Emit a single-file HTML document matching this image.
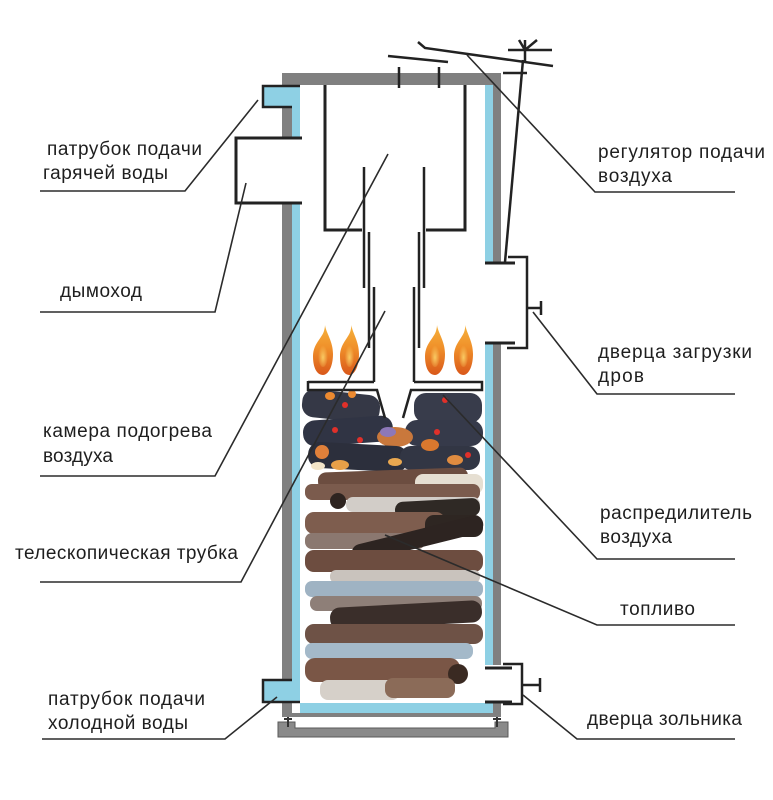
<!DOCTYPE html>
<html><head><meta charset="utf-8">
<style>
html,body{margin:0;padding:0;background:#fff;}
svg{display:block;}
text{font-family:"Liberation Sans","DejaVu Sans",sans-serif;font-size:19px;fill:#1e1e1e;}
</style></head><body>
<svg width="773" height="800" viewBox="0 0 773 800" xmlns="http://www.w3.org/2000/svg">
<defs>
<linearGradient id="fl" x1="0" y1="0" x2="0" y2="1">
<stop offset="0" stop-color="#f5b23c"/>
<stop offset="0.45" stop-color="#f0902a"/>
<stop offset="1" stop-color="#d9581a"/>
</linearGradient>
<radialGradient id="flc" cx="0.5" cy="0.6" r="0.5">
<stop offset="0" stop-color="#fbd36a" stop-opacity="0.9"/>
<stop offset="1" stop-color="#fbd36a" stop-opacity="0"/>
</radialGradient>
<g id="flame">
<path d="M12,0 C13,8 20,16 20,29 C20,42 15,50 10,50 C4,50 0,43 0,31 C0,19 9,13 11,6 C11.5,4 12,2 12,0 Z" fill="url(#fl)"/>
<ellipse cx="10" cy="30" rx="5" ry="12" fill="url(#flc)"/>
</g>
<clipPath id="inner"><rect x="300" y="390" width="185" height="313"/></clipPath>
</defs>

<!-- ===== fuel / fire ===== -->
<g clip-path="url(#inner)">
<rect x="302" y="392" width="78" height="28" rx="12" fill="#353846" transform="rotate(6 340 406)"/>
<rect x="414" y="393" width="68" height="30" rx="12" fill="#383c4b"/>
<ellipse cx="330" cy="396" rx="5" ry="4" fill="#ec8a30"/>
<ellipse cx="352" cy="394" rx="4" ry="4" fill="#ec8a30"/>
<rect x="303" y="418" width="90" height="26" rx="12" fill="#303444" transform="rotate(-4 348 431)"/>
<rect x="405" y="420" width="78" height="26" rx="12" fill="#363a4a"/>
<ellipse cx="395" cy="437" rx="18" ry="10" fill="#c9783c"/>
<ellipse cx="388" cy="432" rx="8" ry="5" fill="#8d78b8"/>
<rect x="308" y="444" width="100" height="26" rx="12" fill="#2c2f3c" transform="rotate(3 358 457)"/>
<rect x="400" y="446" width="80" height="24" rx="11" fill="#323644"/>
<ellipse cx="322" cy="452" rx="7" ry="7" fill="#e0803a"/>
<ellipse cx="340" cy="465" rx="9" ry="5" fill="#e8a048"/>
<ellipse cx="430" cy="445" rx="9" ry="6" fill="#d9782e"/>
<ellipse cx="455" cy="460" rx="8" ry="5" fill="#e08c40"/>
<ellipse cx="395" cy="462" rx="7" ry="4" fill="#eaa850"/>
<ellipse cx="318" cy="466" rx="7" ry="4" fill="#f2e4c8"/>
<circle cx="345" cy="405" r="3" fill="#e0302a"/>
<circle cx="360" cy="440" r="3" fill="#e0302a"/>
<circle cx="445" cy="400" r="3" fill="#e0302a"/>
<circle cx="437" cy="432" r="3" fill="#e0302a"/>
<circle cx="335" cy="430" r="3" fill="#e0302a"/>
<circle cx="468" cy="455" r="3" fill="#e0302a"/>

<rect x="318" y="470" width="150" height="18" rx="8" fill="#6c4d40" transform="rotate(-2 393 479)"/>
<rect x="415" y="474" width="68" height="20" rx="8" fill="#e6dfd2"/>
<rect x="305" y="484" width="175" height="16" rx="7" fill="#7b5b4d"/>
<circle cx="338" cy="501" r="8" fill="#2e2420"/>
<rect x="346" y="497" width="134" height="15" rx="7" fill="#d2cdc8"/>
<rect x="395" y="500" width="85" height="18" rx="8" fill="#2f2925" transform="rotate(-3 437 509)"/>
<rect x="305" y="512" width="140" height="22" rx="9" fill="#7e5d4e"/>
<rect x="425" y="515" width="58" height="22" rx="9" fill="#2e2622"/>
<rect x="305" y="533" width="120" height="16" rx="7" fill="#8b7870"/>
<rect x="350" y="530" width="135" height="18" rx="9" fill="#2d2421" transform="rotate(-14 417 539)"/>
<rect x="305" y="550" width="178" height="22" rx="9" fill="#6d4d40"/>
<rect x="330" y="570" width="150" height="13" rx="6" fill="#c9c3bd"/>
<rect x="305" y="581" width="178" height="16" rx="7" fill="#9fb3c3"/>
<rect x="310" y="596" width="172" height="15" rx="7" fill="#8e7f78"/>
<rect x="330" y="604" width="152" height="22" rx="10" fill="#3a2e2a" transform="rotate(-3 406 615)"/>
<rect x="305" y="624" width="178" height="20" rx="9" fill="#6e5246"/>
<rect x="305" y="643" width="168" height="16" rx="7" fill="#a4b9c9"/>
<rect x="305" y="658" width="155" height="24" rx="10" fill="#7a5646"/>
<circle cx="458" cy="674" r="10" fill="#3a2a22"/>
<rect x="320" y="680" width="80" height="20" rx="8" fill="#d6d0c9"/>
<rect x="385" y="678" width="70" height="20" rx="8" fill="#8b6b58"/>
</g>

<!-- flames -->
<use href="#flame" transform="translate(313,325)"/>
<use href="#flame" transform="translate(340,325) scale(0.95,1)"/>
<use href="#flame" transform="translate(425,325)"/>
<use href="#flame" transform="translate(454,325) scale(0.95,1)"/>

<!-- ===== boiler shell ===== -->
<g fill="#808080">
<rect x="282" y="73" width="219" height="12"/>
<rect x="282" y="107" width="10" height="31"/>
<rect x="282" y="203" width="10" height="477"/>
<rect x="282" y="702" width="10" height="15"/>
<rect x="493" y="85" width="8" height="178"/>
<rect x="493" y="343" width="8" height="322"/>
<rect x="493" y="703" width="8" height="14"/>
<rect x="282" y="713" width="219" height="4"/>
</g>
<g fill="#8ed0e4">
<rect x="263" y="87" width="37" height="20"/>
<rect x="292" y="85" width="8" height="53"/>
<rect x="292" y="203" width="8" height="500"/>
<rect x="263" y="680" width="37" height="22"/>
<rect x="300" y="703" width="193" height="10"/>
<rect x="485" y="85" width="8" height="178"/>
<rect x="485" y="343" width="8" height="322"/>
<rect x="485" y="704" width="8" height="9"/>
</g>

<!-- base tray & legs -->
<path d="M278,722 H295 V728 H495 V722 H508 V737 H278 Z" fill="#8a8a8a" stroke="#5a5a5a" stroke-width="1"/>
<g stroke="#333" stroke-width="2" fill="none">
<path d="M288,717 V727 M284,719 H292"/>
<path d="M497,717 V727 M493,719 H501"/>
</g>

<g fill="none" stroke="#222" stroke-width="3" stroke-linecap="butt">
<path d="M300,86 H263 V107 H292" stroke-width="2.5"/>
<path d="M302,138 H236 V203 H302"/>
<path d="M292,680 H263 V702 H300" stroke-width="2.5"/>
<path d="M399,67 V88 M439,67 V88" stroke-width="2.5"/>
<path d="M325,85 V230 H362"/>
<path d="M465,85 V230 H426"/>
<path d="M364,167 V288 M369,232 V348 M374,287 V382" stroke-width="2.5"/>
<path d="M424,167 V288 M419,232 V348 M414,287 V382" stroke-width="2.5"/>
<path d="M308,382 H374 M308,381 V390 H377 L385,418" stroke-width="2.5"/>
<path d="M414,382 H482 V390 H411 L403,418" stroke-width="2.5"/>
<path d="M485,263 H515"/>
<path d="M508,257 H527 V348 H507" stroke-width="2.5"/>
<path d="M485,343 H515"/>
<path d="M527,308 H541 M541,301 V315" stroke-width="2.5"/>
<path d="M485,668 H512"/>
<path d="M503,664 H522 V704 H503" stroke-width="2.5"/>
<path d="M485,702 H512"/>
<path d="M522,685 H540 M540,678 V692" stroke-width="2.5"/>
<path d="M388,56 L448,62" stroke-width="2.5"/>
<path d="M418,42 L425,48 L553,66" stroke-width="2.5"/>
<path d="M525,40 V63 M508,50 H552 M519,40 L525,50 L537,40 M503,73 H527" stroke-width="2.5"/>
<path d="M523,60 L505,262" stroke-width="2.5"/>
</g>

<!-- ===== leader lines ===== -->
<g fill="none" stroke="#2b2b2b" stroke-width="1.6">
<path d="M40,191 H185 L258,100"/>
<path d="M40,312 H215 L246,183"/>
<path d="M40,476 H215 L388,154"/>
<path d="M40,582 H241 L385,311"/>
<path d="M42,739 H225 L277,697"/>
<path d="M735,192 H595 L467,55"/>
<path d="M735,394 H597 L533,312"/>
<path d="M735,559 H597 L443,395"/>
<path d="M735,625 H597 L385,535"/>
<path d="M735,739 H577 L523,695"/>
</g>

<!-- ===== labels ===== -->
<text x="47" y="155" textLength="155">патрубок подачи</text>
<text x="43" y="179" textLength="125">гарячей воды</text>
<text x="60" y="297" textLength="82">дымоход</text>
<text x="43" y="437" textLength="169">камера подогрева</text>
<text x="43" y="462" textLength="70">воздуха</text>
<text x="15" y="559" textLength="223">телескопическая трубка</text>
<text x="48" y="705" textLength="157">патрубок подачи</text>
<text x="48" y="729" textLength="140">холодной воды</text>
<text x="598" y="158" textLength="167">регулятор подачи</text>
<text x="598" y="182" textLength="74">воздуха</text>
<text x="598" y="358" textLength="154">дверца загрузки</text>
<text x="598" y="382" textLength="46">дров</text>
<text x="600" y="519" textLength="152">распредилитель</text>
<text x="600" y="543" textLength="72">воздуха</text>
<text x="620" y="615" textLength="75">топливо</text>
<text x="587" y="725" textLength="155">дверца зольника</text>
</svg>
</body></html>
